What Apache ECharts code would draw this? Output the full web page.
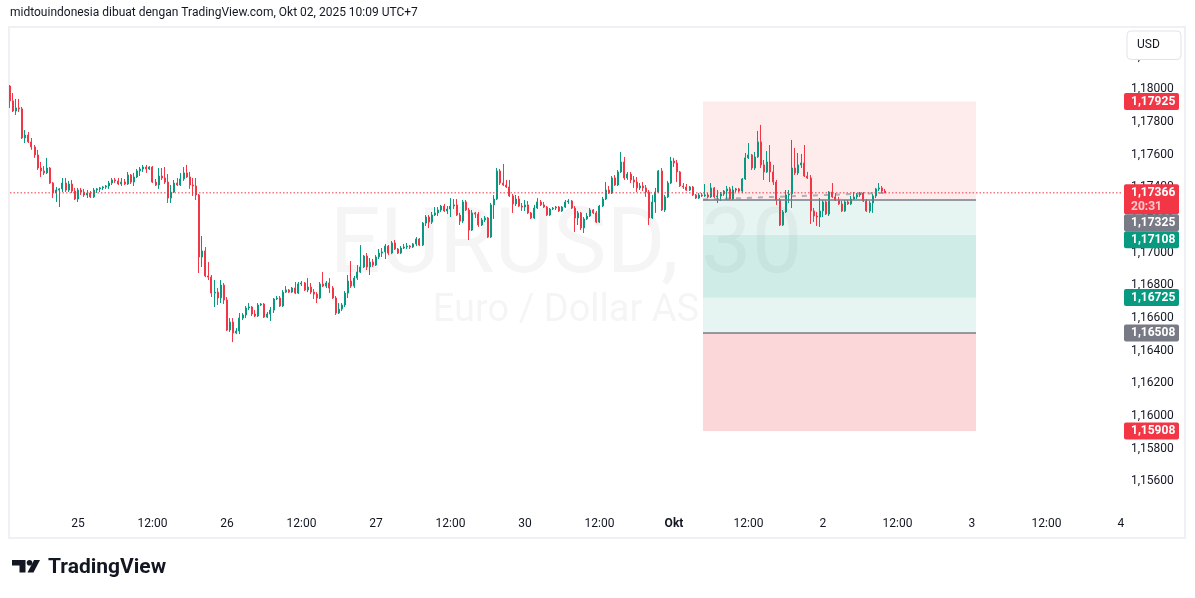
<!DOCTYPE html>
<html><head><meta charset="utf-8">
<script src="https://cdn.jsdelivr.net/npm/echarts@6/dist/echarts.min.js"></script>
<style>html,body{margin:0;padding:0;background:#fff;}#c{width:1195px;height:598px;}</style>
</head><body><div id="c"></div>
<script>
// ---- EURUSD 30m bars (bar index 0 = 24 Sep 13:00 UTC+7) ----
const firstOpen = 1.18020;
const closes = [1.17929,1.17867,1.17886,1.17880,1.17702,1.17720,1.17678,1.17647,1.17598,1.17518,
1.17500,1.17488,1.17518,1.17426,1.17365,1.17383,1.17390,1.17426,1.17383,1.17420,
1.17377,1.17328,1.17383,1.17371,1.17353,1.17365,1.17341,1.17383,1.17390,1.17396,
1.17402,1.17408,1.17426,1.17445,1.17439,1.17420,1.17432,1.17420,1.17475,1.17432,
1.17463,1.17500,1.17512,1.17524,1.17512,1.17524,1.17432,1.17414,1.17469,1.17457,
1.17432,1.17334,1.17371,1.17426,1.17414,1.17451,1.17488,1.17463,1.17414,1.17408,
1.17353,1.16973,1.17010,1.16857,1.16850,1.16752,1.16758,1.16722,1.16801,1.16710,
1.16526,1.16575,1.16507,1.16520,1.16599,1.16618,1.16661,1.16667,1.16624,1.16612,
1.16679,1.16685,1.16605,1.16624,1.16648,1.16716,1.16722,1.16673,1.16758,1.16771,
1.16758,1.16783,1.16752,1.16808,1.16814,1.16771,1.16789,1.16758,1.16746,1.16722,
1.16808,1.16795,1.16814,1.16783,1.16722,1.16630,1.16654,1.16679,1.16752,1.16826,
1.16795,1.16844,1.16881,1.16912,1.16979,1.16912,1.16942,1.16924,1.16973,1.16997,
1.17004,1.17040,1.16997,1.17059,1.17022,1.16997,1.17028,1.17034,1.17040,1.17034,
1.17053,1.17083,1.17046,1.17181,1.17218,1.17187,1.17230,1.17243,1.17261,1.17285,
1.17255,1.17267,1.17285,1.17292,1.17230,1.17193,1.17310,1.17261,1.17138,1.17243,
1.17236,1.17169,1.17200,1.17212,1.17095,1.17292,1.17328,1.17500,1.17426,1.17414,
1.17402,1.17347,1.17298,1.17328,1.17285,1.17279,1.17292,1.17243,1.17212,1.17273,
1.17310,1.17292,1.17279,1.17230,1.17267,1.17273,1.17279,1.17255,1.17279,1.17310,
1.17316,1.17273,1.17212,1.17243,1.17151,1.17206,1.17224,1.17261,1.17243,1.17187,
1.17285,1.17328,1.17383,1.17365,1.17457,1.17414,1.17494,1.17555,1.17457,1.17481,
1.17445,1.17432,1.17396,1.17408,1.17396,1.17371,1.17212,1.17310,1.17371,1.17500,
1.17261,1.17341,1.17426,1.17561,1.17549,1.17494,1.17408,1.17402,1.17383,1.17402,
1.17353,1.17334,1.17353,1.17347,1.17353,1.17341,1.17396,1.17341,1.17347,1.17359,
1.17377,1.17390,1.17328,1.17383,1.17390,1.17377,1.17451,1.17580,1.17598,1.17518,
1.17586,1.17678,1.17537,1.17494,1.17555,1.17494,1.17432,1.17322,1.17169,1.17249,
1.17353,1.17359,1.17518,1.17488,1.17537,1.17549,1.17469,1.17457,1.17255,1.17224,
1.17218,1.17255,1.17310,1.17236,1.17371,1.17341,1.17322,1.17298,1.17255,1.17310,
1.17298,1.17328,1.17341,1.17353,1.17365,1.17316,1.17255,1.17304,1.17347,1.17390,
1.17396,1.17377,1.17366];
const highs = [1.18026,1.17977,1.17941,1.17941,1.17892,1.17751,1.17739,1.17702,1.17659,1.17629,
1.17555,1.17530,1.17580,1.17524,1.17432,1.17402,1.17396,1.17457,1.17457,1.17439,
1.17445,1.17396,1.17396,1.17396,1.17390,1.17383,1.17377,1.17396,1.17396,1.17402,
1.17408,1.17414,1.17439,1.17457,1.17457,1.17457,1.17457,1.17451,1.17494,1.17481,
1.17488,1.17512,1.17524,1.17537,1.17537,1.17530,1.17530,1.17451,1.17518,1.17518,
1.17524,1.17481,1.17414,1.17445,1.17457,1.17488,1.17524,1.17537,1.17494,1.17457,
1.17457,1.17359,1.17102,1.17034,1.16942,1.16863,1.16832,1.16783,1.16832,1.16814,
1.16728,1.16599,1.16599,1.16538,1.16630,1.16630,1.16673,1.16691,1.16673,1.16648,
1.16691,1.16691,1.16691,1.16636,1.16667,1.16722,1.16734,1.16734,1.16771,1.16795,
1.16777,1.16789,1.16820,1.16820,1.16826,1.16820,1.16844,1.16814,1.16777,1.16758,
1.16820,1.16881,1.16826,1.16844,1.16795,1.16734,1.16691,1.16691,1.16765,1.16863,
1.16948,1.16857,1.16924,1.17046,1.16985,1.16997,1.16967,1.16961,1.16985,1.17022,
1.17028,1.17053,1.17046,1.17071,1.17077,1.17028,1.17040,1.17053,1.17059,1.17046,
1.17059,1.17095,1.17089,1.17187,1.17230,1.17230,1.17249,1.17279,1.17279,1.17292,
1.17298,1.17285,1.17334,1.17328,1.17328,1.17243,1.17322,1.17322,1.17273,1.17261,
1.17249,1.17249,1.17212,1.17224,1.17218,1.17304,1.17353,1.17518,1.17512,1.17543,
1.17445,1.17445,1.17359,1.17353,1.17347,1.17304,1.17322,1.17316,1.17249,1.17292,
1.17334,1.17322,1.17310,1.17285,1.17273,1.17279,1.17285,1.17285,1.17285,1.17322,
1.17328,1.17322,1.17285,1.17255,1.17249,1.17218,1.17243,1.17273,1.17267,1.17255,
1.17292,1.17341,1.17432,1.17408,1.17469,1.17475,1.17506,1.17616,1.17586,1.17494,
1.17494,1.17469,1.17463,1.17426,1.17432,1.17414,1.17383,1.17353,1.17396,1.17506,
1.17518,1.17353,1.17439,1.17586,1.17580,1.17567,1.17500,1.17426,1.17420,1.17408,
1.17408,1.17359,1.17365,1.17365,1.17420,1.17365,1.17426,1.17402,1.17383,1.17371,
1.17383,1.17408,1.17402,1.17408,1.17396,1.17396,1.17457,1.17610,1.17671,1.17604,
1.17616,1.17745,1.17782,1.17567,1.17622,1.17659,1.17537,1.17445,1.17334,1.17261,
1.17383,1.17383,1.17690,1.17641,1.17610,1.17604,1.17659,1.17494,1.17475,1.17273,
1.17249,1.17334,1.17322,1.17322,1.17377,1.17426,1.17365,1.17341,1.17316,1.17322,
1.17322,1.17347,1.17371,1.17365,1.17371,1.17371,1.17328,1.17316,1.17359,1.17396,
1.17426,1.17408,1.17390];
const lows = [1.17886,1.17861,1.17843,1.17861,1.17696,1.17671,1.17671,1.17629,1.17580,1.17506,
1.17463,1.17475,1.17481,1.17420,1.17334,1.17310,1.17279,1.17371,1.17371,1.17371,
1.17365,1.17322,1.17310,1.17353,1.17341,1.17334,1.17334,1.17334,1.17365,1.17371,
1.17383,1.17390,1.17390,1.17414,1.17426,1.17414,1.17408,1.17414,1.17414,1.17420,
1.17408,1.17457,1.17469,1.17494,1.17488,1.17506,1.17426,1.17408,1.17390,1.17445,
1.17420,1.17304,1.17304,1.17365,1.17408,1.17408,1.17439,1.17457,1.17390,1.17347,
1.17322,1.16875,1.16912,1.16850,1.16832,1.16728,1.16667,1.16679,1.16691,1.16685,
1.16520,1.16514,1.16452,1.16501,1.16501,1.16587,1.16599,1.16648,1.16612,1.16605,
1.16605,1.16673,1.16599,1.16599,1.16581,1.16630,1.16710,1.16667,1.16667,1.16752,
1.16752,1.16752,1.16746,1.16746,1.16795,1.16765,1.16758,1.16746,1.16716,1.16691,
1.16716,1.16789,1.16783,1.16752,1.16716,1.16618,1.16624,1.16642,1.16667,1.16722,
1.16783,1.16783,1.16832,1.16875,1.16906,1.16893,1.16863,1.16912,1.16918,1.16961,
1.16973,1.16961,1.16985,1.16991,1.17016,1.16991,1.16991,1.17022,1.17022,1.17022,
1.17028,1.17040,1.17040,1.17040,1.17163,1.17151,1.17175,1.17224,1.17224,1.17249,
1.17249,1.17236,1.17218,1.17267,1.17224,1.17169,1.17181,1.17255,1.17077,1.17132,
1.17212,1.17157,1.17163,1.17187,1.17089,1.17089,1.17206,1.17322,1.17414,1.17408,
1.17396,1.17341,1.17243,1.17285,1.17279,1.17255,1.17255,1.17236,1.17206,1.17206,
1.17267,1.17285,1.17273,1.17224,1.17224,1.17261,1.17261,1.17249,1.17249,1.17273,
1.17298,1.17267,1.17126,1.17169,1.17138,1.17120,1.17200,1.17218,1.17236,1.17181,
1.17181,1.17279,1.17322,1.17359,1.17359,1.17408,1.17408,1.17488,1.17445,1.17445,
1.17426,1.17396,1.17371,1.17383,1.17377,1.17341,1.17169,1.17206,1.17243,1.17365,
1.17255,1.17249,1.17334,1.17420,1.17524,1.17432,1.17402,1.17390,1.17377,1.17377,
1.17347,1.17328,1.17328,1.17341,1.17341,1.17334,1.17334,1.17334,1.17304,1.17316,
1.17347,1.17322,1.17322,1.17322,1.17371,1.17371,1.17365,1.17445,1.17573,1.17506,
1.17506,1.17580,1.17518,1.17445,1.17488,1.17432,1.17414,1.17292,1.17163,1.17163,
1.17243,1.17304,1.17273,1.17475,1.17475,1.17518,1.17463,1.17451,1.17175,1.17187,
1.17163,1.17157,1.17218,1.17230,1.17224,1.17334,1.17316,1.17292,1.17249,1.17249,
1.17292,1.17292,1.17322,1.17328,1.17341,1.17310,1.17249,1.17243,1.17243,1.17334,
1.17377,1.17365,1.17365];

// time axis labels and the bar index where each one sits
const timeLabels = ['25','12:00','26','12:00','27','12:00','30','12:00','Okt','12:00','2','12:00','3','12:00','4'];
const timeLabelBars = [22,46,70,94,118,142,166,190,214,238,262,286,310,334,358];
// price axis tick labels
const priceTicks = [1.156,1.158,1.160,1.162,1.164,1.166,1.168,1.170,1.172,1.174,1.176,1.178,1.180,1.182];

const lastPrice = 1.17366;
const countdown = '20:31';
// position tools (short + long)
const shortEntry = 1.17325, shortStop = 1.17925, shortTarget = 1.16725;
const longEntry = 1.16508, longStop = 1.15908, longTarget = 1.17108;
const toolFromBar = 223.34, toolToBar = 311.29;
const pathToBar = 282;

const X_MIN = 0.094, X_MAX = 358.33;
const UP = '#089981', DOWN = '#F23645', GREY = '#787B86', TXT = '#131722';
const FONT = 'Roboto, "Liberation Sans", sans-serif';

const bars = closes.map((c, i) => [i, i === 0 ? firstOpen : closes[i - 1], c, lows[i], highs[i]]);
const fmt = v => v.toFixed(5).replace('.', ',');

const chart = echarts.init(document.getElementById('c'), null, {renderer: 'canvas'});
const area = (a, b, col) => [{xAxis: toolFromBar, yAxis: a, itemStyle: {color: col}}, {xAxis: toolToBar, yAxis: b}];

chart.setOption({
  animation: false,
  backgroundColor: '#ffffff',
  grid: {left: 10, right: 73, top: 27, bottom: 88, containLabel: false},
  xAxis: {
    type: 'value', min: X_MIN, max: X_MAX,
    axisLine: {show: false}, axisTick: {show: false}, splitLine: {show: false},
    axisLabel: {
      customValues: timeLabelBars, margin: 8, color: TXT, fontSize: 12, fontFamily: FONT,
      formatter: v => {
        const k = timeLabelBars.indexOf(Math.round(v));
        const t = k >= 0 ? timeLabels[k] : '';
        return t === 'Okt' ? '{b|Okt}' : t;
      },
      rich: {b: {fontWeight: 'bold', fontSize: 12, color: TXT, fontFamily: FONT}}
    }
  },
  yAxis: {
    type: 'value', position: 'right', min: 1.1542376, max: 1.1838151,
    axisLine: {show: false}, axisTick: {show: false}, splitLine: {show: false},
    axisLabel: {customValues: priceTicks, formatter: fmt, color: TXT, fontSize: 12, fontFamily: FONT, margin: 9, align: 'left'}
  },
  series: [
    {
      type: 'line', z: 1, silent: true, symbol: 'none', data: [[toolFromBar, shortEntry]], lineStyle: {opacity: 0},
      markArea: {
        silent: true,
        data: [
          area(shortStop, shortEntry, 'rgba(242,54,69,0.1)'),
          area(shortEntry, shortTarget, 'rgba(8,153,129,0.1)'),
          area(longTarget, longEntry, 'rgba(8,153,129,0.1)'),
          area(longEntry, longStop, 'rgba(242,54,69,0.2)')
        ]
      },
      markLine: {
        silent: true, symbol: 'none', label: {show: false},
        data: [
          [{coord: [toolFromBar, shortEntry], lineStyle: {color: GREY, width: 1.6, type: 'solid'}}, {coord: [toolToBar, shortEntry]}],
          [{coord: [toolFromBar, longEntry], lineStyle: {color: GREY, width: 1.6, type: 'solid'}}, {coord: [toolToBar, longEntry]}],
          [{coord: [toolFromBar, shortEntry], lineStyle: {color: 'rgba(120,123,134,0.55)', width: 2, type: [5, 6]}}, {coord: [pathToBar, lastPrice]}]
        ]
      }
    },
    {
      type: 'candlestick', z: 3, data: bars, barWidth: 1.5, clip: true,
      itemStyle: {color: UP, color0: DOWN, borderColor: UP, borderColor0: DOWN, borderWidth: 1}
    },
    {
      type: 'line', z: 4, silent: true, symbol: 'none', data: [[X_MIN, lastPrice], [X_MAX, lastPrice]],
      lineStyle: {color: DOWN, width: 1, type: [1.5, 2]}
    }
  ]
});

// overlay graphics: watermark, frame, header, price tags, logo
const gfx = [];
gfx.push({type: 'text', z: 0, silent: true, x: 566, y: 249,
  style: {text: 'EURUSD, 30', fill: 'rgba(19,23,34,0.045)', font: '400 90px ' + FONT, align: 'center', verticalAlign: 'middle'}});
gfx.push({type: 'text', z: 0, silent: true, x: 566, y: 311,
  style: {text: 'Euro / Dollar AS', fill: 'rgba(19,23,34,0.045)', font: '400 38px ' + FONT, align: 'center', verticalAlign: 'middle'}});
gfx.push({type: 'rect', z: 0, silent: true, shape: {x: 9, y: 27, width: 1176, height: 511},
  style: {fill: null, stroke: '#EEF0F3', lineWidth: 2}});
gfx.push({type: 'text', z: 50, x: 10, y: 13,
  style: {text: 'midtouindonesia dibuat dengan TradingView.com, Okt 02, 2025 10:09 UTC+7', fill: TXT, font: '12px ' + FONT, verticalAlign: 'middle'}});
// currency button
gfx.push({type: 'rect', z: 60, shape: {x: 1127, y: 31, width: 54, height: 28.5, r: 4},
  style: {fill: '#ffffff', stroke: '#E0E3EB', lineWidth: 1}});
gfx.push({type: 'text', z: 61, x: 1137, y: 45, style: {text: 'USD', fill: TXT, font: '12px ' + FONT, verticalAlign: 'middle'}});

// price tags on the scale, stacked so they do not overlap
const tags = [
  {p: shortStop, color: DOWN},
  {p: lastPrice, color: DOWN, sub: countdown},
  {p: shortEntry, color: GREY},
  {p: longTarget, color: UP},
  {p: shortTarget, color: UP},
  {p: longEntry, color: GREY},
  {p: longStop, color: DOWN}
].map(t => Object.assign(t, {y: chart.convertToPixel({yAxisIndex: 0}, t.p)})).sort((a, b) => a.y - b.y);
let prevBottom = -1e9;
tags.forEach(t => {
  const h = t.sub ? 30 : 17;
  const top = Math.max(t.y - 8.5, prevBottom);
  prevBottom = top + h;
  gfx.push({type: 'rect', z: 80, shape: {x: 1124, y: top, width: 55, height: h, r: 2}, style: {fill: t.color}});
  gfx.push({type: 'text', z: 81, x: 1131, y: top + 9,
    style: {text: fmt(t.p), fill: '#ffffff', font: 'bold 12px ' + FONT, verticalAlign: 'middle'}});
  if (t.sub) gfx.push({type: 'text', z: 81, x: 1131, y: top + 22.5,
    style: {text: t.sub, fill: '#FCC9CE', font: 'bold 12px ' + FONT, verticalAlign: 'middle'}});
});

// TradingView logo
gfx.push({type: 'polygon', z: 50, shape: {points: [[12,560],[25.5,560],[25.5,572.5],[19.5,572.5],[19.5,565.5],[12,565.5]]}, style: {fill: TXT}});
gfx.push({type: 'circle', z: 50, shape: {cx: 29.5, cy: 562.8, r: 2.8}, style: {fill: TXT}});
gfx.push({type: 'polygon', z: 50, shape: {points: [[34,560],[40,560],[33.5,572.5],[27.5,572.5]]}, style: {fill: TXT}});
gfx.push({type: 'text', z: 50, x: 48, y: 568,
  style: {text: 'TradingView', fill: TXT, font: 'bold 21px ' + FONT, verticalAlign: 'middle'}});

chart.setOption({graphic: {elements: gfx}});
</script></body></html>
